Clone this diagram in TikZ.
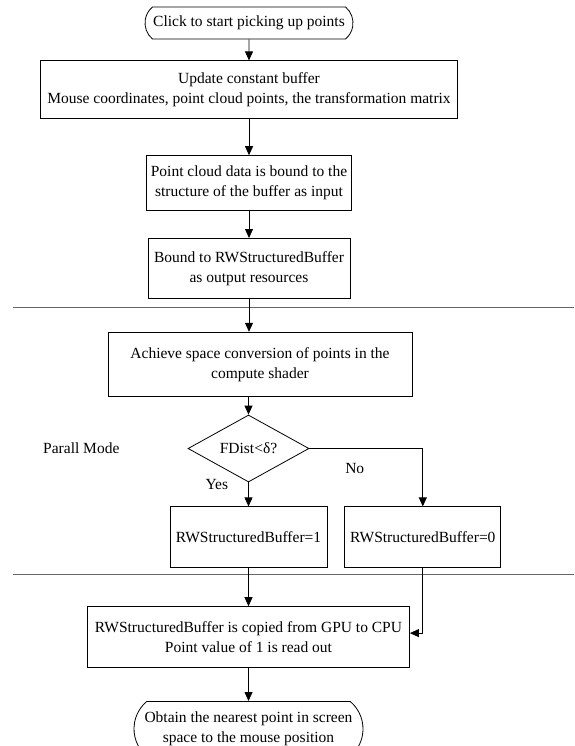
\documentclass[tikz,border=0pt]{standalone}
\usepackage{fontspec}
\setmainfont{Liberation Serif}
\usetikzlibrary{positioning,shapes.geometric,shapes.misc,arrows.meta}

\tikzset{
  every node/.style={font=\fontsize{15.5}{20}\selectfont},
  proc/.style={draw, rectangle, align=center, line width=0.8pt, inner sep=2pt},
  term/.style={draw, rounded rectangle, rounded rectangle arc length=100, align=center, line width=0.8pt, inner sep=2pt},
  decide/.style={draw, diamond, aspect=1.8, inner sep=0pt, line width=0.8pt, minimum width=121pt, minimum height=67pt},
  flow/.style={-{Triangle[length=9pt,width=8pt]}, line width=0.8pt},
  sep/.style={black!60, line width=1pt}
}

\begin{document}
\begin{tikzpicture}[x=1pt,y=1pt]
      \useasboundingbox (0,0) rectangle (574,-746);
      % Define nodes
      \node[term, minimum width=212pt, minimum height=32pt] (start) at (249,-23) {Click to start picking up points};
      \node[proc, minimum width=417pt, minimum height=58pt, below=21pt of start] (update) {Update constant buffer\\Mouse coordinates, point cloud points, the transformation matrix};
      \node[proc, minimum width=205pt, minimum height=55pt, below=36pt of update] (input) {Point cloud data is bound to the\\structure of the buffer as input};
      \node[proc, minimum width=202pt, minimum height=60pt, below=27pt of input] (output) {Bound to RWStructuredBuffer\\as output resources};
      \node[proc, minimum width=304pt, minimum height=64pt, below=33pt of output, xshift=11pt] (convert) {Achieve space conversion of points in the\\compute shader};
      \node[decide, below=18pt of convert, xshift=-11.5pt] (dist) {FDist<δ?};
      \node[left=68pt of dist, inner sep=0pt] (mode) {Parall Mode};
      \node[proc, minimum width=157pt, minimum height=61pt, below=24pt of dist] (one) {RWStructuredBuffer=1};
      \node[proc, minimum width=156pt, minimum height=61pt, right=17pt of one] (zero) {RWStructuredBuffer=0};
      \node[proc, minimum width=322pt, minimum height=61pt, below=38pt of one] (copy) {RWStructuredBuffer is copied from GPU to CPU\\Point value of 1 is read out};
      \node[term, minimum width=233pt, minimum height=55pt, below=33pt of copy] (finish) {Obtain the nearest point in screen\\space to the mouse position};
      % Separators
      \draw[sep] (13,-307) -- (574,-307);
      \draw[sep] (13,-574) -- (574,-574);
      % Connect nodes
      \draw[flow] (start) -- (update);
      \draw[flow] (update) -- (input);
      \draw[flow] (input) -- (output);
      \draw[flow] (output) -- (output.south |- convert.north);
      \draw[flow] (dist.north |- convert.south) -- (dist);
      \draw[flow] (dist) -- node[left=20pt, pos=0.1, inner sep=0pt] {Yes} (one);
      \draw[flow] (dist) -| node[pos=0.2, below=14pt, inner sep=0pt] {No} (zero);
      \draw[flow] (one) -- (copy);
      \draw[flow] (zero) |- ([yshift=4pt]copy.east);
      \draw[flow] (copy) -- (finish);
\end{tikzpicture}
\end{document}
